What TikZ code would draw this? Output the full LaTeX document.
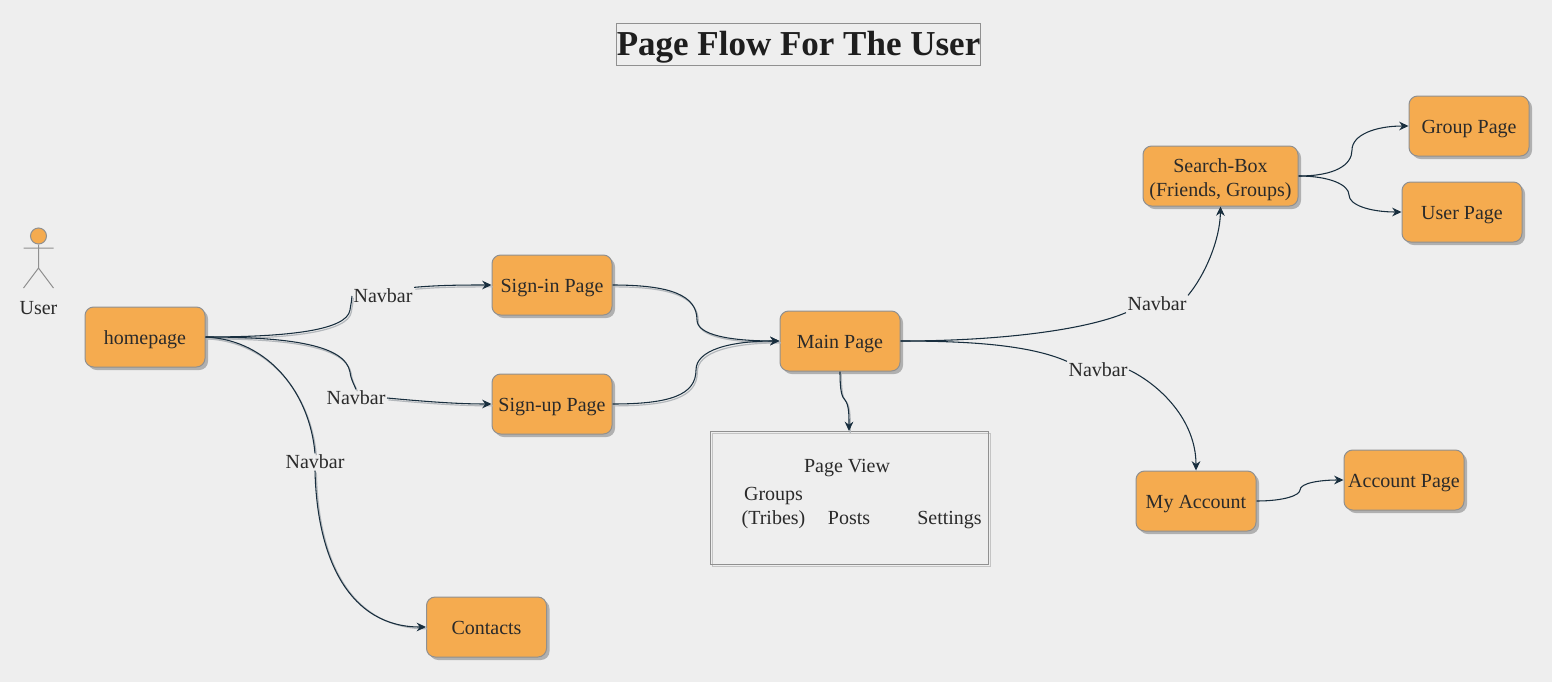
\documentclass[tikz,border=0pt]{standalone}
\usepackage{fontspec}
\setmainfont{Liberation Serif}
\usetikzlibrary{arrows.meta,shadows}
\definecolor{canvas}{HTML}{EEEEEE}
\definecolor{boxfill}{HTML}{F5AB4F}
\definecolor{edgegray}{HTML}{909090}
\definecolor{shadowgray}{HTML}{B0B0B0}
\definecolor{ink}{HTML}{2A2A2A}
\definecolor{titleink}{HTML}{1E1E1E}
\definecolor{wire}{HTML}{182E3E}
\definecolor{ghostgray}{HTML}{B4B8BC}
\definecolor{backline}{HTML}{C4C4C4}
\tikzset{
  txt/.style={text=ink,font=\fontsize{15}{18}\selectfont,align=center,inner sep=0pt},
  pagebox/.style={txt,draw=edgegray,fill=boxfill,line width=0.75pt,rounded corners=6.5pt,
    minimum width=90pt,minimum height=45pt,text height=11.5pt,text depth=0pt,
    general shadow={fill=shadowgray,draw=none,shadow xshift=2.25pt,shadow yshift=-2.25pt}},
  navlabel/.style={txt,inner sep=1pt},
  link/.style={draw=wire,line width=0.8pt},
  linkhead/.style={link,-{Stealth[length=7pt,width=6.5pt]}},
  ghost/.style={draw=ghostgray,line width=0.9pt,transform canvas={shift={(1pt,-1.4pt)}}},
  frame/.style={draw=edgegray,line width=0.75pt,fill=none},
}
\newcommand{\ghostlink}[2]{\draw[ghost] #2; \draw[#1] #2;}
\begin{document}
\begin{tikzpicture}[x=0.75pt,y=-0.75pt]
\useasboundingbox (0,0) rectangle (1552,682);
\fill[canvas] (0,0) rectangle (1552,682);

% title
\node[frame,minimum width=272.25pt,minimum height=31.5pt,inner sep=0pt,text=titleink,
  text height=17.5pt,text depth=0pt,
  font=\fontsize{26.25}{30}\selectfont\bfseries] (title) at (798.5,44) {Page Flow For The User};

% actor
\node[draw=edgegray,fill=boxfill,circle,minimum size=12pt,inner sep=0pt,line width=0.75pt] (head) at (38.5,236) {};
\coordinate (shoulderL) at (23.5,248);
\coordinate (shoulderR) at (53.5,248);
\coordinate (hip) at (38.5,268);
\coordinate (footL) at (23.5,288);
\coordinate (footR) at (53.5,288);
\draw[draw=edgegray,line width=0.75pt] (head.south) -- (hip) (shoulderL) -- (shoulderR) (footL) -- (hip) -- (footR);
\node[txt] (user) at (38.5,308) {User};

% pages
\node[pagebox] (home) at (145,337) {homepage};
\node[pagebox] (signin) at (552,285) {Sign-in Page};
\node[pagebox] (signup) at (552,404) {Sign-up Page};
\node[pagebox] (main) at (840,341) {Main Page};
\node[pagebox] (contacts) at (486.5,627) {Contacts};
\node[pagebox,minimum width=116.25pt,text height=31pt,text depth=0pt] (search) at (1220.5,176) {Search-Box\\(Friends, Groups)};
\node[pagebox] (group) at (1469,126) {Group Page};
\node[pagebox] (userpage) at (1462,212) {User Page};
\node[pagebox] (myacc) at (1196,501) {My Account};
\node[pagebox] (account) at (1404,480) {Account Page};

% page view
\node[frame,draw=backline,minimum width=208.5pt,minimum height=99.75pt,inner sep=0pt] (viewback) at (851,500) {};
\node[frame,minimum width=208.5pt,minimum height=99.75pt,inner sep=0pt] (view) at (849,498) {};
\node[txt] (viewtitle) at (847,468.5) {Page View};
\node[txt] (tribes) at (773.5,508) {Groups\\(Tribes)};
\node[txt] (posts) at (849,518) {Posts};
\node[txt] (settings) at (949.5,520) {Settings};

% labels
\node[navlabel] (nav1) at (383,296) {Navbar};
\node[navlabel] (nav2) at (356,398) {Navbar};
\node[navlabel] (nav3) at (315,462) {Navbar};
\node[navlabel] (nav4) at (1157,304) {Navbar};
\node[navlabel] (nav5) at (1098,370) {Navbar};

% connectors
\ghostlink{link}{(home.east) .. controls (290,337) and (347,330) .. (350,310) .. controls (351,303) and (352,300) .. (nav1.west)}
\ghostlink{linkhead}{(nav1.north east) .. controls (440,285) and (465,285) .. (signin.west)}
\ghostlink{link}{(home.east) .. controls (290,337) and (345,345) .. (350,372) .. controls (351,380) and (354,384) .. (nav2.north)}
\ghostlink{linkhead}{(nav2.east) .. controls (430,402) and (460,404) .. (signup.west)}
\ghostlink{link}{(home.east) .. controls (270,340) and (310,395) .. (nav3.north)}
\ghostlink{linkhead}{(nav3.south) .. controls (317,560) and (350,627) .. (contacts.west)}
\ghostlink{linkhead}{(signin.east) .. controls (670,285) and (697,295) .. (697,320) .. controls (697,335) and (730,341) .. (main.west)}
\ghostlink{linkhead}{(signup.east) .. controls (670,404) and (696,395) .. (696,370) .. controls (696,350) and (730,341) .. (main.west)}
\ghostlink{linkhead}{(main.south) .. controls (840,392) and (842,397) .. (845,400) .. controls (849,405) and (849,415) .. (view.north)}
\draw[link] (main.east) .. controls (1000,341) and (1085,330) .. (nav4.south west);
\draw[linkhead] (nav4.north east) .. controls (1205,275) and (1220,240) .. (search.south);
\draw[link] (main.east) .. controls (970,341) and (1030,345) .. (nav5.north west);
\draw[linkhead] (nav5.east) .. controls (1160,385) and (1196,420) .. (myacc.north);
\draw[linkhead] (search.east) .. controls (1335,176) and (1352,165) .. (1352,150) .. controls (1352,135) and (1375,126) .. (group.west);
\draw[linkhead] (search.east) .. controls (1330,176) and (1349,185) .. (1349,195) .. controls (1349,205) and (1370,212) .. (userpage.west);
\draw[linkhead] (myacc.east) .. controls (1285,501) and (1300,495) .. (1300,490) .. controls (1300,483) and (1320,480) .. (account.west);
\end{tikzpicture}
\end{document}
